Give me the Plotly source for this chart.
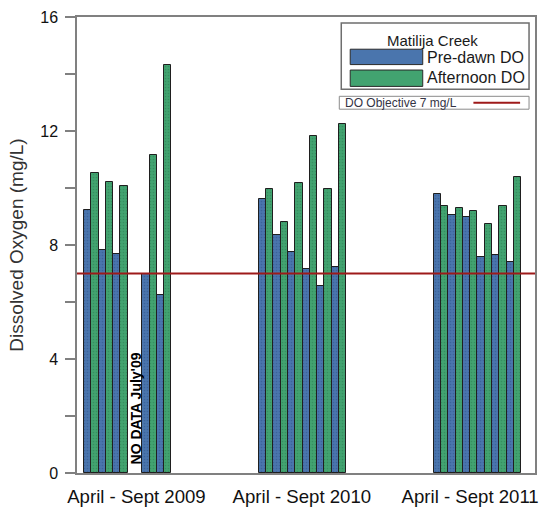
import plotly.graph_objects as go

# ---------------- data ----------------
months = ["Apr", "May", "Jun", "Jul", "Aug", "Sep"]
years = [2009, 2010, 2011]
year_labels = ["April - Sept 2009", "April - Sept 2010", "April - Sept 2011"]

predawn_2009 = [9.23, 7.84, 7.70, None, 6.97, 6.25]
afternoon_2009 = [10.54, 10.21, 10.06, None, 11.17, 14.31]
predawn_2010 = [9.63, 8.36, 7.76, 7.15, 6.55, 7.22]
afternoon_2010 = [9.96, 8.80, 10.19, 11.84, 9.96, 12.23]
predawn_2011 = [9.79, 9.07, 8.99, 7.59, 7.65, 7.42]
afternoon_2011 = [9.37, 9.29, 9.21, 8.72, 9.37, 10.39]

do_objective = 7.0
no_data_label = "NO DATA July'09"

predawn = predawn_2009 + predawn_2010 + predawn_2011
afternoon = afternoon_2009 + afternoon_2010 + afternoon_2011

# slot positions: 12 month-slots per year, data in first 6
slots_per_year = 12
xpos = [yi * slots_per_year + mi for yi in range(len(years)) for mi in range(len(months))]
label_pos = [3.1, 14.45, 26.0]

BLUE = "#4a75ad"
BLUE_FG = "#2e5288"
GREEN = "#42a370"
GREEN_FG = "#2b7a4f"
RED = "#9e1a1a"
FONT = "Arial, Liberation Sans, sans-serif"

fig = go.Figure()
fig.add_trace(go.Bar(
    x=xpos, y=predawn, name="Pre-dawn DO", offsetgroup="a",
    marker=dict(color=BLUE, line=dict(color="#1f1f1f", width=1),
                pattern=dict(shape=".", size=3, solidity=0.25, fgcolor=BLUE_FG, bgcolor=BLUE)),
    showlegend=False,
))
fig.add_trace(go.Bar(
    x=xpos, y=afternoon, name="Afternoon DO", offsetgroup="b",
    marker=dict(color=GREEN, line=dict(color="#1f1f1f", width=1),
                pattern=dict(shape=".", size=3, solidity=0.25, fgcolor=GREEN_FG, bgcolor=GREEN)),
    showlegend=False,
))

fig.add_hline(y=do_objective, line=dict(color=RED, width=2))

fig.add_annotation(x=3.1, y=2.28, text="<b>" + no_data_label + "</b>", textangle=-90,
                   showarrow=False, font=dict(family=FONT, size=14, color="black"))

# ---------------- manual legend (paper coords) ----------------
L, R, T, B = 77, 538, 17, 477
W, H = R - L, B - T
def px(x):
    return (x - L) / W
def py(y):
    return (B - y) / H

shapes = [
    dict(type="rect", xref="paper", yref="paper", x0=px(343), x1=px(532), y0=py(90), y1=py(23),
         line=dict(color="#6e6e6e", width=1.5), fillcolor="white", layer="above"),
    dict(type="rect", xref="paper", yref="paper", x0=px(352), x1=px(425), y0=py(65), y1=py(49.5),
         line=dict(color="#2a2a2a", width=1), fillcolor=BLUE, layer="above"),
    dict(type="rect", xref="paper", yref="paper", x0=px(352), x1=px(425), y0=py(87), y1=py(70.5),
         line=dict(color="#2a2a2a", width=1), fillcolor=GREEN, layer="above"),
    dict(type="rect", xref="paper", yref="paper", x0=px(341), x1=px(532), y0=py(110), y1=py(97),
         line=dict(color="#8a8a8a", width=1), fillcolor="white", layer="above"),
    dict(type="line", xref="paper", yref="paper", x0=px(476), x1=px(523), y0=py(103.5), y1=py(103.5),
         line=dict(color=RED, width=2), layer="above"),
]
for s in shapes:
    fig.add_shape(**s)

def legend_text(x, y, text, size, color, xanchor):
    fig.add_annotation(xref="paper", yref="paper", x=px(x), y=py(y), text=text,
                       xanchor=xanchor, yanchor="middle", showarrow=False,
                       font=dict(family=FONT, size=size, color=color))

legend_text(435, 41, "Matilija Creek", 15, "#1a1a1a", "center")
legend_text(427, 57.5, "Pre-dawn DO", 16, "#1a1a1a", "left")
legend_text(427, 78.5, "Afternoon DO", 16, "#1a1a1a", "left")
legend_text(345, 103.5, "DO Objective 7 mg/L", 12, "#333344", "left")

fig.update_layout(
    width=545, height=514,
    margin=dict(l=L, r=545 - R, t=T, b=514 - B),
    paper_bgcolor="white", plot_bgcolor="white",
    barmode="group", bargap=0, bargroupgap=0,
    font=dict(family=FONT, color="#222222"),
)
fig.update_xaxes(
    range=[-0.98, 30.45], tickvals=label_pos, ticktext=year_labels,
    tickfont=dict(size=18.6, color="#111111"), ticks="", ticklabelstandoff=6,
    showline=True, linecolor="#808080", linewidth=1.5, mirror=True,
    showgrid=False, zeroline=False,
)
y_ticks = list(range(0, 17, 2))
fig.update_yaxes(
    range=[0, 16], tickvals=y_ticks,
    ticktext=[str(v) if v % 4 == 0 else "" for v in y_ticks],
    tickfont=dict(size=16, color="#111111"), ticks="outside", ticklen=10,
    tickcolor="#808080", tickwidth=1.5, ticklabelstandoff=4,
    showline=True, linecolor="#808080", linewidth=1.5, mirror=True,
    showgrid=False, zeroline=False,
    title=dict(text="Dissolved Oxygen (mg/L)", font=dict(size=19, color="#333333"), standoff=12),
)

fig.write_html("out.html", config={"displayModeBar": False},
               post_script="document.body.style.margin='0';document.body.style.padding='0';")
